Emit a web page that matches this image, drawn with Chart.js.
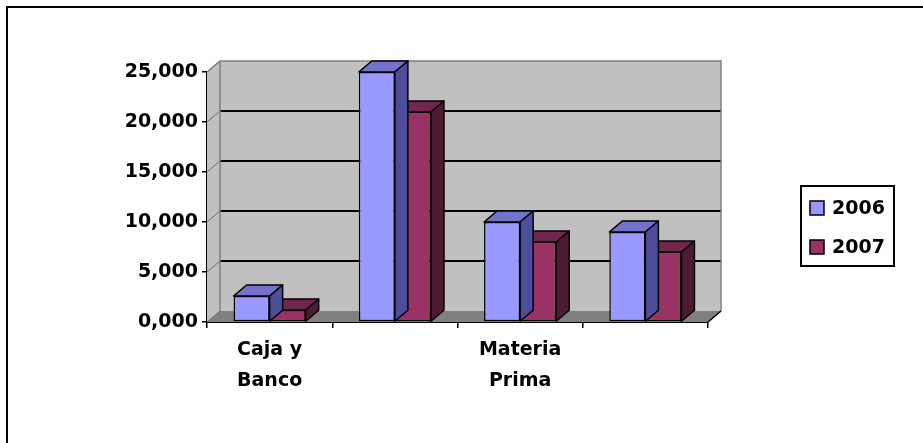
<!DOCTYPE html>
<html>
<head>
<meta charset="utf-8">
<script src="https://cdn.jsdelivr.net/npm/chart.js@4.4.1/dist/chart.umd.min.js"></script>
<style>
  html, body { margin: 0; padding: 0; background: #fff; overflow: hidden; }
  #wrap { position: relative; width: 923px; height: 443px; }
</style>
</head>
<body>
<div id="wrap"><canvas id="balanceChart"></canvas></div>
<script>
// data
const categories = [["Caja y", "Banco"], ["Cuentas por", "Cobrar"], ["Materia", "Prima"], ["Productos", "Terminados"]];
const seriesNames = ["2006", "2007"];
const values2006 = [2600, 25000, 10000, 9000];
const values2007 = [1200, 21000, 8000, 7000];
const yTicks = [0, 5000, 10000, 15000, 20000, 25000];

// depth of the fake 3d look
const DX = 13, DY = -11;
const faceColors = [
    { front: "#9999FF", top: "#7373CC", side: "#4D4D99" },
    { front: "#993366", top: "#73264D", side: "#4D1A33" }
];
const FONT = { family: "'DejaVu Sans', sans-serif", size: 19, weight: "bold" };

function poly(ctx, pts, fill, stroke, lw) {
    ctx.beginPath();
    ctx.moveTo(pts[0][0], pts[0][1]);
    for (let i = 1; i < pts.length; i++) ctx.lineTo(pts[i][0], pts[i][1]);
    ctx.closePath();
    if (fill) { ctx.fillStyle = fill; ctx.fill(); }
    if (stroke) { ctx.strokeStyle = stroke; ctx.lineWidth = lw || 1; ctx.stroke(); }
}

const wallsPlugin = {
    id: "walls",
    beforeDraw(chart) {
        const ctx = chart.ctx;
        ctx.save();
        ctx.fillStyle = "#fff";
        ctx.fillRect(0, 0, chart.width, chart.height);
        // outer frame (runs off the right and bottom)
        ctx.strokeStyle = "#000";
        ctx.lineWidth = 2;
        ctx.beginPath();
        ctx.moveTo(7, chart.height);
        ctx.lineTo(7, 7);
        ctx.lineTo(chart.width, 7);
        ctx.stroke();
        ctx.restore();
    },
    beforeDatasetsDraw(chart) {
        const ctx = chart.ctx;
        const a = chart.chartArea;
        const y = chart.scales.y;
        ctx.save();
        // back wall
        poly(ctx, [[a.left + DX, a.top + DY], [a.right + DX, a.top + DY], [a.right + DX, a.bottom + DY], [a.left + DX, a.bottom + DY]], "#C0C0C0");
        // left side wall
        poly(ctx, [[a.left, a.top], [a.left + DX, a.top + DY], [a.left + DX, a.bottom + DY], [a.left, a.bottom]], "#C0C0C0");
        // floor
        poly(ctx, [[a.left, a.bottom], [a.left + DX, a.bottom + DY], [a.right + DX, a.bottom + DY], [a.right, a.bottom]], "#808080");

        // grid lines on the back wall, diagonals on the side wall
        y.ticks.forEach(t => {
            const py = y.getPixelForValue(t.value);
            if (t.value !== 0 && t.value !== y.max) {
                ctx.strokeStyle = "#000";
                ctx.lineWidth = 2;
                ctx.beginPath();
                ctx.moveTo(a.left + DX, py + DY);
                ctx.lineTo(a.right + DX, py + DY);
                ctx.stroke();
            }
            ctx.strokeStyle = "#6E6E6E";
            ctx.lineWidth = 1;
            ctx.beginPath();
            ctx.moveTo(a.left, py);
            ctx.lineTo(a.left + DX, py + DY);
            ctx.stroke();
        });

        // wall edges
        ctx.strokeStyle = "#808080";
        ctx.lineWidth = 1.5;
        ctx.beginPath();
        ctx.moveTo(a.left, a.top);
        ctx.lineTo(a.left + DX, a.top + DY);
        ctx.lineTo(a.right + DX, a.top + DY);
        ctx.lineTo(a.right + DX, a.bottom + DY);
        ctx.moveTo(a.left + DX, a.top + DY);
        ctx.lineTo(a.left + DX, a.bottom + DY);
        ctx.stroke();
        ctx.strokeStyle = "#000";
        ctx.beginPath();
        ctx.moveTo(a.right, a.bottom);
        ctx.lineTo(a.right + DX, a.bottom + DY);
        ctx.stroke();
        ctx.restore();
    },
    afterDatasetDraw(chart, args) {
        const ctx = chart.ctx;
        const c = faceColors[args.index];
        ctx.save();
        ctx.lineJoin = "round";
        args.meta.data.forEach(bar => {
            const p = bar.getProps(["x", "y", "base", "width"], true);
            const l = p.x - p.width / 2, r = p.x + p.width / 2;
            poly(ctx, [[l, p.y], [l + DX, p.y + DY], [r + DX, p.y + DY], [r, p.y]], c.top, "#000", 1.5);
            poly(ctx, [[r, p.y], [r + DX, p.y + DY], [r + DX, p.base + DY], [r, p.base]], c.side, "#000", 1.5);
        });
        ctx.restore();
    },
    afterDraw(chart) {
        // boxed legend at the right
        const ctx = chart.ctx;
        ctx.save();
        ctx.strokeStyle = "#000";
        ctx.lineWidth = 2;
        ctx.strokeRect(801, 186, 93, 80);
        ctx.font = FONT.weight + " " + FONT.size + "px " + FONT.family;
        ctx.textBaseline = "middle";
        ctx.fillStyle = "#000";
        chart.data.datasets.forEach((ds, i) => {
            const cy = 208 + i * 39;
            ctx.fillStyle = ds.backgroundColor;
            ctx.fillRect(810, cy - 7, 14, 14);
            ctx.lineWidth = 1.5;
            ctx.strokeRect(810, cy - 7, 14, 14);
            ctx.fillStyle = "#000";
            ctx.fillText(ds.label, 832, cy + 1);
        });
        ctx.restore();
    }
};

const ctx = document.getElementById("balanceChart").getContext("2d");

new Chart(ctx, {
    type: "bar",
    data: {
        labels: categories,
        datasets: [
            { label: seriesNames[0], data: values2006, backgroundColor: faceColors[0].front, borderColor: "#000", borderWidth: 1.5, borderSkipped: false },
            { label: seriesNames[1], data: values2007, backgroundColor: faceColors[1].front, borderColor: "#000", borderWidth: 1.5, borderSkipped: false }
        ]
    },
    options: {
        responsive: true,
        maintainAspectRatio: false,
        animation: false,
        layout: { padding: { left: 0, top: 72, right: 215, bottom: 0 } },
        datasets: { bar: { categoryPercentage: 0.576, barPercentage: 1.0 } },
        plugins: {
            legend: { display: false },
            tooltip: { enabled: false }
        },
        scales: {
            x: {
                grid: { drawOnChartArea: false, drawTicks: true, tickLength: 6, color: "#000", lineWidth: 1.5 },
                border: { display: true, color: "#000", width: 2 },
                ticks: {
                    color: "#000",
                    font: { ...FONT, lineHeight: 1.6 },
                    padding: 7,
                    maxRotation: 0,
                    autoSkip: false,
                    // only every other category gets its name, like the original
                    callback: function (v, i) { return i % 2 === 0 ? categories[i] : ""; }
                },
                afterFit: function (scale) { scale.height = 121; }
            },
            y: {
                min: yTicks[0],
                max: yTicks[yTicks.length - 1],
                grid: { drawOnChartArea: false, drawTicks: true, tickLength: 5, color: "#000", lineWidth: 1.5 },
                border: { display: true, color: "#000", width: 2 },
                ticks: {
                    stepSize: 5000,
                    color: "#000",
                    font: FONT,
                    padding: 4,
                    callback: function (v) { return (v / 1000) + ",000"; }
                },
                afterFit: function (scale) { scale.width = 207; }
            }
        }
    },
    plugins: [wallsPlugin]
});
</script>
</body>
</html>
